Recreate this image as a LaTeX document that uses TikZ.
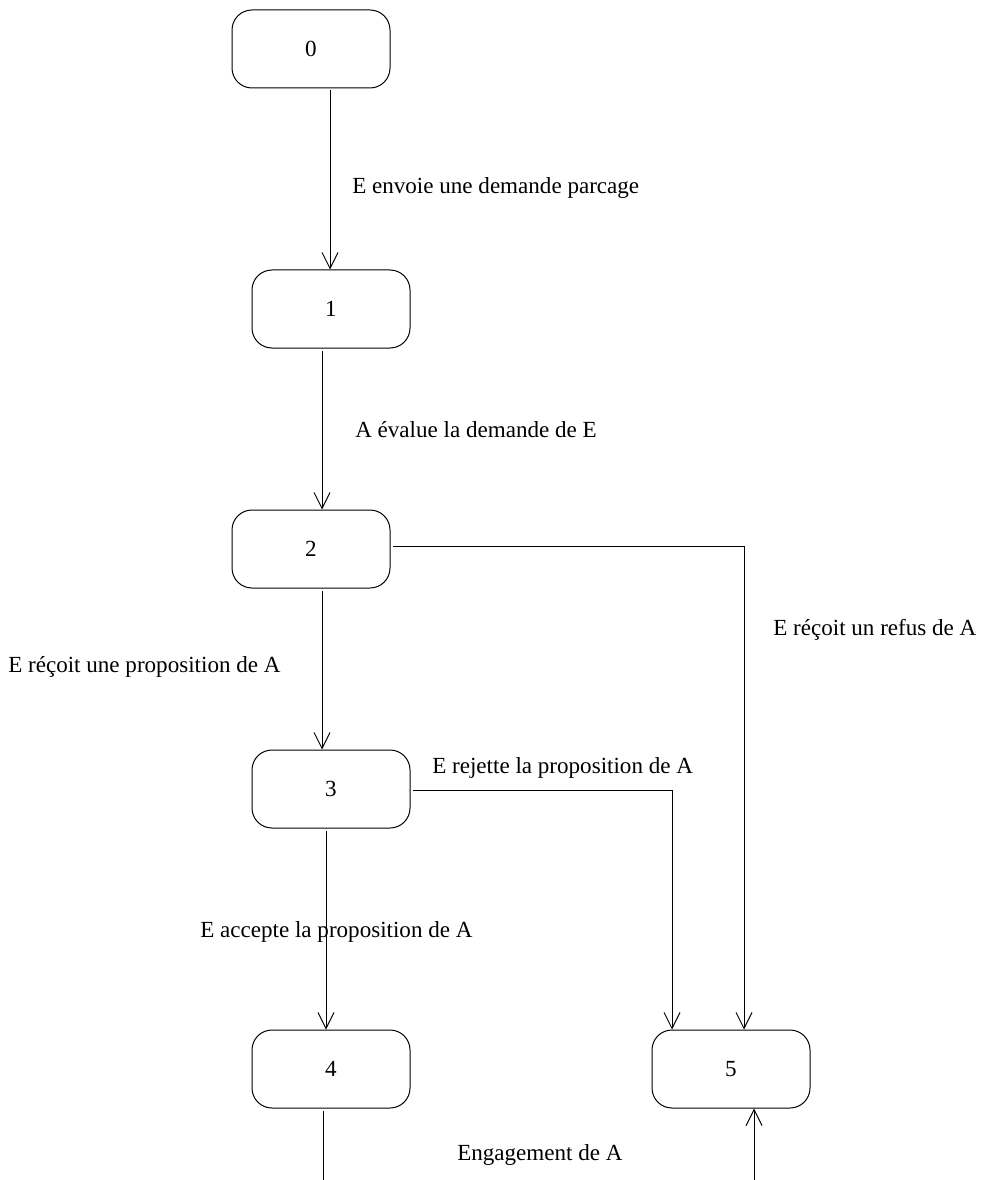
\documentclass[tikz,border=0pt]{standalone}
\usepackage{fontspec}
\setmainfont{Liberation Serif}
\usetikzlibrary{arrows.meta,calc}

\tikzset{
  state/.style={draw, rounded corners=15pt, line width=0.75pt,
    minimum width=118.5pt, minimum height=58.5pt, inner sep=0pt,
    font=\fontsize{17.3}{20}\selectfont},
  lab/.style={anchor=west, inner sep=0pt, font=\fontsize{17.3}{20}\selectfont},
  link/.style={line width=0.75pt},
  arr/.style={link, -{Straight Barb[length=12pt,width=12pt,line width=0.75pt]}},
}

\begin{document}
\begin{tikzpicture}[x=0.75pt,y=-0.75pt]
  \useasboundingbox (0,0) rectangle (990,1180);

  % states
  \node[state] (n0) at (311,49)   {0};
  \node[state] (n1) at (331,309)  {1};
  \node[state] (n2) at (311,549)  {2};
  \node[state] (n3) at (331,789)  {3};
  \node[state] (n4) at (331,1069) {4};
  \node[state] (n5) at (731,1069) {5};

  % free ends at the lower border
  \coordinate (out4) at (323,1180);
  \coordinate (in5)  at (754,1180);

  % transitions
  \draw[arr] ($(n0.south)+(19,2)$) -- ($(n1.north)+(-1,0)$);
  \draw[arr] ($(n1.south)+(-9,2)$) -- ($(n2.north)+(11,0)$);
  \draw[arr] ($(n2.south)+(11,2)$) -- ($(n3.north)+(-9,0)$);
  \draw[arr] ($(n3.south)+(-5,2)$) -- ($(n4.north)+(-5,0)$);
  \draw[arr] ($(n2.east)+(2,-3)$) -| ($(n5.north)+(13,0)$);
  \draw[arr] ($(n3.east)+(2,1)$) -| ($(n5.north)+(-59,0)$);
  \draw[link] ($(n4.south)+(-8,2)$) -- (out4);
  \draw[arr] (in5) -- ($(n5.south)+(23,0)$);

  % transition labels
  \node[lab] (l01) at (352,188)  {E envoie une demande parcage};
  \node[lab] (l12) at (355,430)  {A évalue la demande de E};
  \node[lab] (l23) at (8,667)    {E réçoit une proposition de A};
  \node[lab] (l25) at (773,630)  {E réçoit un refus de A};
  \node[lab] (l35) at (432,768)  {E rejette la proposition de A};
  \node[lab] (l34) at (200,932)  {E accepte la proposition de A};
  \node[lab] (l45) at (457,1155) {Engagement de A};
\end{tikzpicture}
\end{document}
